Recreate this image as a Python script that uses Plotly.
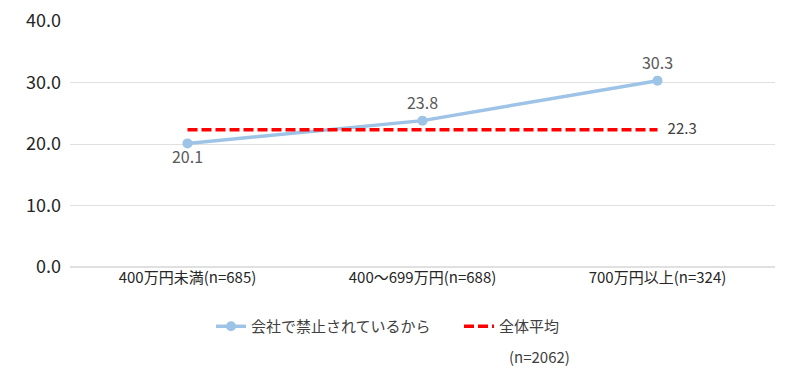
import plotly.graph_objects as go

categories = ["400万円未満(n=685)", "400～699万円(n=688)", "700万円以上(n=324)"]
series_name = "会社で禁止されているから"
series_values = [20.1, 23.8, 30.3]
avg_name = "全体平均"
avg_value = 22.3
avg_note = "(n=2062)"
y_ticks = [0, 10, 20, 30, 40]

FONT = "Noto Sans CJK JP, Meiryo, sans-serif"
fig = go.Figure()
fig.add_trace(go.Scatter(
    x=categories, y=series_values, name=series_name, mode="lines+markers+text",
    line=dict(color="#9DC3E6", width=3.5), marker=dict(size=10, color="#9DC3E6"),
    text=[f"{v:.1f}" for v in series_values],
    textposition=["bottom center", "top center", "top center"],
    textfont=dict(size=16, color="#595959", family=FONT),
    cliponaxis=False,
))
avg_vals = [avg_value] * len(categories)
fig.add_trace(go.Scatter(
    x=categories, y=avg_vals, name=avg_name, mode="lines+text",
    line=dict(color="#FF0000", width=3.5, dash="10px,4px"),
    text=["", "", f"   {avg_value:.1f}"], textposition="middle right",
    textfont=dict(size=15, color="#404040", family=FONT),
    cliponaxis=False,
))
fig.add_annotation(text=avg_note, xref="paper", yref="paper", x=0.62, y=-0.315,
                   xanchor="left", yanchor="top", showarrow=False,
                   font=dict(size=15, color="#404040", family=FONT))
fig.update_layout(
    width=789, height=378, margin=dict(l=70, r=14, t=21, b=111),
    plot_bgcolor="white", paper_bgcolor="white",
    font=dict(family=FONT, color="#404040"),
    showlegend=True,
    legend=dict(orientation="h", x=0.2, xanchor="left", y=-0.175, yanchor="top",
                entrywidth=203, entrywidthmode="pixels",
                font=dict(size=15, color="#404040", family=FONT), traceorder="normal"),
    xaxis=dict(type="category", range=[-0.5, 2.5], showgrid=False, showline=False,
               automargin=False,
               ticks="", tickfont=dict(size=15, color="#262626", family=FONT)),
    yaxis=dict(range=[0, 40], tickvals=y_ticks, tickformat=".1f", showgrid=True,
               automargin=False,
               gridcolor="#E0E0E0", gridwidth=1, zeroline=True, zerolinecolor="#E0E0E0",
               showline=False, ticks="", ticklabelstandoff=8,
               tickfont=dict(size=18, color="#262626", family=FONT)),
)
fig.write_html("out.html", post_script="document.body.style.margin='0';",
               config={"displayModeBar": False})
